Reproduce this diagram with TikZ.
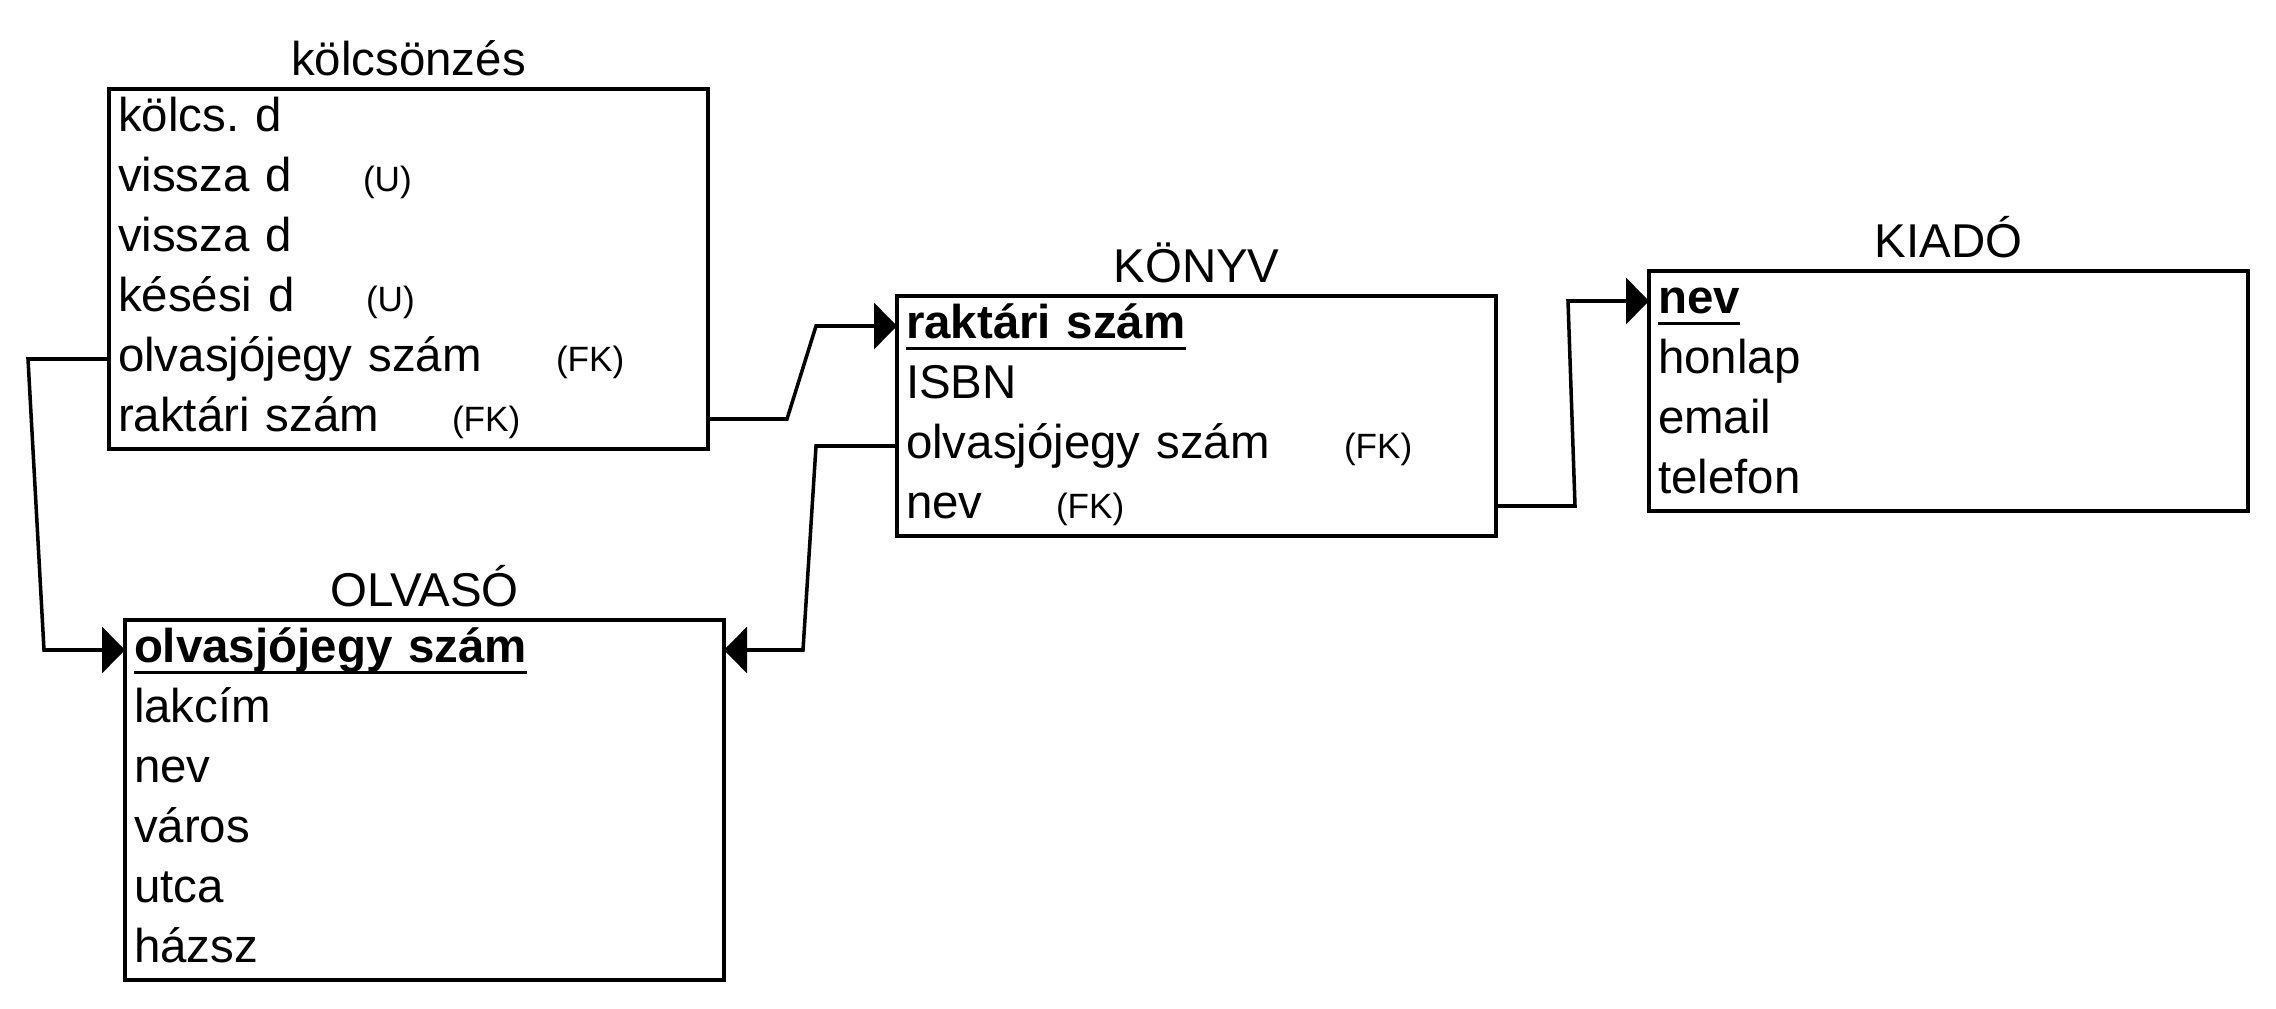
\documentclass[tikz,border=0pt]{standalone}
\usepackage{fontspec}
\setmainfont{Liberation Sans}
\usetikzlibrary{arrows.meta,positioning,fit,backgrounds}
\frenchspacing

\newcommand{\rowsize}{\fontsize{13.5}{16}\selectfont}
\newcommand{\withtag}[3]{\makebox[#1][l]{#2}{\fontsize{10}{12}\selectfont #3}}
\newsavebox{\pkeybox}
\newcommand{\pkey}[1]{\sbox{\pkeybox}{\bfseries #1}\rlap{\rule[-3.4pt]{\wd\pkeybox}{1.1pt}}\usebox{\pkeybox}}

\begin{document}
\begin{tikzpicture}[
    node distance=0pt,
    row/.style={minimum height=0.6cm, text width=5.81cm, inner xsep=0.09cm, inner ysep=0pt, outer sep=0pt, align=left, text height=3.4mm, text depth=0.9mm, font=\rowsize},
    entity/.style={draw, line width=1pt, inner sep=0pt},
    tabtitle/.style={font=\rowsize, inner sep=1.1mm},
    arr/.style={-{Triangle[length=0.23cm, width=0.46cm]}, line width=1pt},
]
    \useasboundingbox (0,0) rectangle (22.76,-10.08);

    % kolcsonzes
    \node[row, anchor=north] (k1) at (4.085,-0.89) {kölcs. d};
    \node[row, below=of k1] (k2) {\withtag{2.45cm}{vissza d}{(U)}};
    \node[row, below=of k2] (k3) {vissza d};
    \node[row, below=of k3] (k4) {\withtag{2.48cm}{késési d}{(U)}};
    \node[row, below=of k4] (k5) {\withtag{4.38cm}{olvasjójegy szám}{(FK)}};
    \node[row, below=of k5] (k6) {\withtag{3.34cm}{raktári szám}{(FK)}};

    % konyv
    \node[row, anchor=north] (y1) at (11.965,-2.96) {\pkey{raktári szám}};
    \node[row, below=of y1] (y2) {ISBN};
    \node[row, below=of y2] (y3) {\withtag{4.38cm}{olvasjójegy szám}{(FK)}};
    \node[row, below=of y3] (y4) {\withtag{1.5cm}{nev}{(FK)}};

    % kiado
    \node[row, anchor=north] (i1) at (19.485,-2.71) {\pkey{nev}};
    \node[row, below=of i1] (i2) {honlap};
    \node[row, below=of i2] (i3) {email};
    \node[row, below=of i3] (i4) {telefon};

    % olvaso
    \node[row, anchor=north] (o1) at (4.245,-6.20) {\pkey{olvasjójegy szám}};
    \node[row, below=of o1] (o2) {lakcím};
    \node[row, below=of o2] (o3) {nev};
    \node[row, below=of o3] (o4) {város};
    \node[row, below=of o4] (o5) {utca};
    \node[row, below=of o5] (o6) {házsz};

    % table frames
    \begin{scope}[on background layer]
        \node[entity, fit=(k1)(k6), label={[tabtitle]above:kölcsönzés}] (kolcs) {};
        \node[entity, fit=(y1)(y4), label={[tabtitle]above:KÖNYV}] (konyv) {};
        \node[entity, fit=(i1)(i4), label={[tabtitle]above:KIADÓ}] (kiado) {};
        \node[entity, fit=(o1)(o6), label={[tabtitle]above:OLVASÓ}] (olvaso) {};
    \end{scope}

    % links
    \draw[arr] (k5.west) -- ++(-0.81,0) -- ([xshift=-0.81cm]o1.west) -- (o1.west);
    \draw[arr] (k6.east) -- ++(0.79,0) -- ([xshift=-0.81cm]y1.west) -- (y1.west);
    \draw[arr] (y3.west) -- ++(-0.81,0) -- ([xshift=0.79cm]o1.east) -- (o1.east);
    \draw[arr] (y4.east) -- ++(0.79,0) -- ([xshift=-0.81cm]i1.west) -- (i1.west);
\end{tikzpicture}
\end{document}
